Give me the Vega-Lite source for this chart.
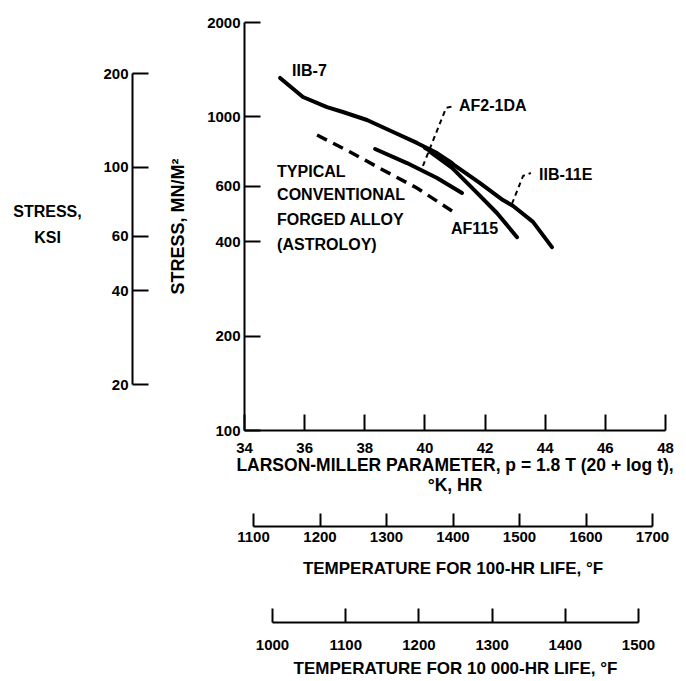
{
  "$schema": "https://vega.github.io/schema/vega-lite/v6.json",
  "width": 421,
  "height": 408,
  "autosize": {"type": "none"},
  "padding": {"left": 244, "top": 22, "right": 21, "bottom": 251},
  "background": "white",
  "config": {
    "view": {"stroke": null},
    "font": "Liberation Sans",
    "axis": {
      "labelFont": "Liberation Sans",
      "labelFontWeight": "bold",
      "labelFontSize": 15,
      "labelColor": "black",
      "titleFont": "Liberation Sans",
      "titleFontWeight": "bold",
      "titleFontSize": 17,
      "titleColor": "black",
      "titleLimit": 1000,
      "domainColor": "black",
      "domainWidth": 2,
      "tickColor": "black",
      "tickWidth": 2,
      "grid": false,
      "labelOverlap": false,
      "labelFlush": false
    }
  },
  "datasets": {
    "curves": [
      {"series": "IIB-7", "p": 35.20, "stress": 1326},
      {"series": "IIB-7", "p": 35.96, "stress": 1153},
      {"series": "IIB-7", "p": 36.76, "stress": 1071},
      {"series": "IIB-7", "p": 37.29, "stress": 1033},
      {"series": "IIB-7", "p": 38.09, "stress": 974},
      {"series": "IIB-7", "p": 38.96, "stress": 892},
      {"series": "IIB-7", "p": 39.75, "stress": 823},
      {"series": "IIB-7", "p": 40.42, "stress": 764},
      {"series": "IIB-7", "p": 40.92, "stress": 710},
      {"series": "IIB-11E", "p": 40.02, "stress": 793},
      {"series": "IIB-11E", "p": 40.85, "stress": 715},
      {"series": "IIB-11E", "p": 41.85, "stress": 613},
      {"series": "IIB-11E", "p": 42.61, "stress": 541},
      {"series": "IIB-11E", "p": 42.95, "stress": 518},
      {"series": "IIB-11E", "p": 43.61, "stress": 461},
      {"series": "IIB-11E", "p": 44.24, "stress": 383},
      {"series": "AF115", "p": 40.19, "stress": 770},
      {"series": "AF115", "p": 40.92, "stress": 685},
      {"series": "AF115", "p": 41.75, "stress": 570},
      {"series": "AF115", "p": 42.41, "stress": 492},
      {"series": "AF115", "p": 43.08, "stress": 412},
      {"series": "AF2-1DA", "p": 38.36, "stress": 787},
      {"series": "AF2-1DA", "p": 39.42, "stress": 710},
      {"series": "AF2-1DA", "p": 40.42, "stress": 636},
      {"series": "AF2-1DA", "p": 41.25, "stress": 570},
      {"series": "Astroloy", "p": 36.43, "stress": 872},
      {"series": "Astroloy", "p": 37.53, "stress": 770},
      {"series": "Astroloy", "p": 38.62, "stress": 675},
      {"series": "Astroloy", "p": 39.75, "stress": 591},
      {"series": "Astroloy", "p": 41.02, "stress": 492},
      {"series": "AF2-1DA leader", "p": 39.95, "stress": 695},
      {"series": "AF2-1DA leader", "p": 40.72, "stress": 1064},
      {"series": "AF2-1DA leader", "p": 40.98, "stress": 1079},
      {"series": "IIB-11E leader", "p": 42.91, "stress": 526},
      {"series": "IIB-11E leader", "p": 43.28, "stress": 646},
      {"series": "IIB-11E leader", "p": 43.54, "stress": 660}
    ],
    "labels": [
      {"text": "IIB-7", "p": 35.60, "stress": 1396},
      {"text": "AF2-1DA", "p": 41.15, "stress": 1079},
      {"text": "IIB-11E", "p": 43.81, "stress": 650},
      {"text": "TYPICAL", "p": 35.10, "stress": 665},
      {"text": "CONVENTIONAL", "p": 35.10, "stress": 561},
      {"text": "FORGED ALLOY", "p": 35.10, "stress": 467},
      {"text": "(ASTROLOY)", "p": 35.10, "stress": 389},
      {"text": "AF115", "p": 40.88, "stress": 437}
    ]
  },
  "resolve": {"scale": {"x": "independent", "y": "independent"}},
  "layer": [
    {
      "encoding": {
        "x": {
          "field": "p",
          "type": "quantitative",
          "scale": {"domain": [34, 48], "nice": false, "zero": false},
          "axis": {
            "orient": "bottom",
            "values": [34, 36, 38, 40, 42, 44, 46, 48],
            "format": "d",
            "tickSize": -16,
            "labelPadding": 26,
            "title": ["LARSON-MILLER PARAMETER, p = 1.8 T (20 + log t),", "°K, HR"],
            "titleFontSize": 17.5,
            "titleBaseline": "top",
            "titleY": 26,
            "titleLineHeight": 20
          }
        },
        "y": {
          "field": "stress",
          "type": "quantitative",
          "scale": {"type": "log", "domain": [100, 2000], "nice": false},
          "axis": {
            "orient": "left",
            "values": [100, 200, 400, 600, 1000, 2000],
            "format": "d",
            "tickSize": -16,
            "labelPadding": 20,
            "title": "STRESS, MN/M²",
            "titleFontSize": 18,
            "titlePadding": 19
          }
        }
      },
      "layer": [
        {
          "data": {"name": "curves"},
          "transform": [{"filter": {"field": "series", "oneOf": ["IIB-7", "IIB-11E", "AF115", "AF2-1DA"]}}],
          "mark": {"type": "line", "color": "black", "strokeWidth": 4, "strokeCap": "round", "strokeJoin": "round"},
          "encoding": {"detail": {"field": "series"}}
        },
        {
          "data": {"name": "curves"},
          "transform": [{"filter": {"field": "series", "equal": "Astroloy"}}],
          "mark": {"type": "line", "color": "black", "strokeWidth": 3.5, "strokeDash": [11, 7]},
          "encoding": {"detail": {"field": "series"}}
        },
        {
          "data": {"name": "curves"},
          "transform": [{"filter": {"field": "series", "oneOf": ["AF2-1DA leader", "IIB-11E leader"]}}],
          "mark": {"type": "line", "color": "black", "strokeWidth": 2, "strokeDash": [5, 4]},
          "encoding": {"detail": {"field": "series"}}
        },
        {
          "data": {"name": "labels"},
          "mark": {"type": "text", "align": "left", "baseline": "middle", "font": "Liberation Sans", "fontWeight": "bold", "fontSize": 16, "color": "black"},
          "encoding": {"text": {"field": "text"}}
        }
      ]
    },
    {
      "data": {"values": [{"ksi": 20}, {"ksi": 200}]},
      "mark": {"type": "point", "opacity": 0},
      "encoding": {
        "y": {
          "field": "ksi",
          "type": "quantitative",
          "scale": {"type": "log", "domain": [20, 200], "range": [362, 51], "nice": false},
          "axis": {
            "orient": "left",
            "offset": 112,
            "values": [20, 40, 60, 100, 200],
            "format": "d",
            "tickSize": -16,
            "labelPadding": 20,
            "title": ["STRESS,", "KSI"],
            "titleAngle": 0,
            "titleAlign": "center",
            "titleBaseline": "top",
            "titleX": -85,
            "titleY": 181,
            "titleLineHeight": 26,
            "titleFontSize": 16
          }
        }
      }
    },
    {
      "data": {"values": [{"f100": 1100}, {"f100": 1700}]},
      "mark": {"type": "point", "opacity": 0},
      "encoding": {
        "x": {
          "field": "f100",
          "type": "quantitative",
          "scale": {"domain": [1100, 1700], "range": [9, 408], "nice": false, "zero": false},
          "axis": {
            "orient": "bottom",
            "offset": 96,
            "values": [1100, 1200, 1300, 1400, 1500, 1600, 1700],
            "format": "d",
            "tickSize": -13,
            "labelPadding": 16,
            "title": "TEMPERATURE FOR 100-HR LIFE, °F",
            "titleBaseline": "top",
            "titleY": 34
          }
        }
      }
    },
    {
      "data": {"values": [{"f10000": 1000}, {"f10000": 1500}]},
      "mark": {"type": "point", "opacity": 0},
      "encoding": {
        "x": {
          "field": "f10000",
          "type": "quantitative",
          "scale": {"domain": [1000, 1500], "range": [28, 394], "nice": false, "zero": false},
          "axis": {
            "orient": "bottom",
            "offset": 192,
            "values": [1000, 1100, 1200, 1300, 1400, 1500],
            "format": "d",
            "tickSize": -14,
            "labelPadding": 29,
            "title": "TEMPERATURE FOR 10 000-HR LIFE, °F",
            "titleBaseline": "top",
            "titleY": 38
          }
        }
      }
    }
  ]
}
